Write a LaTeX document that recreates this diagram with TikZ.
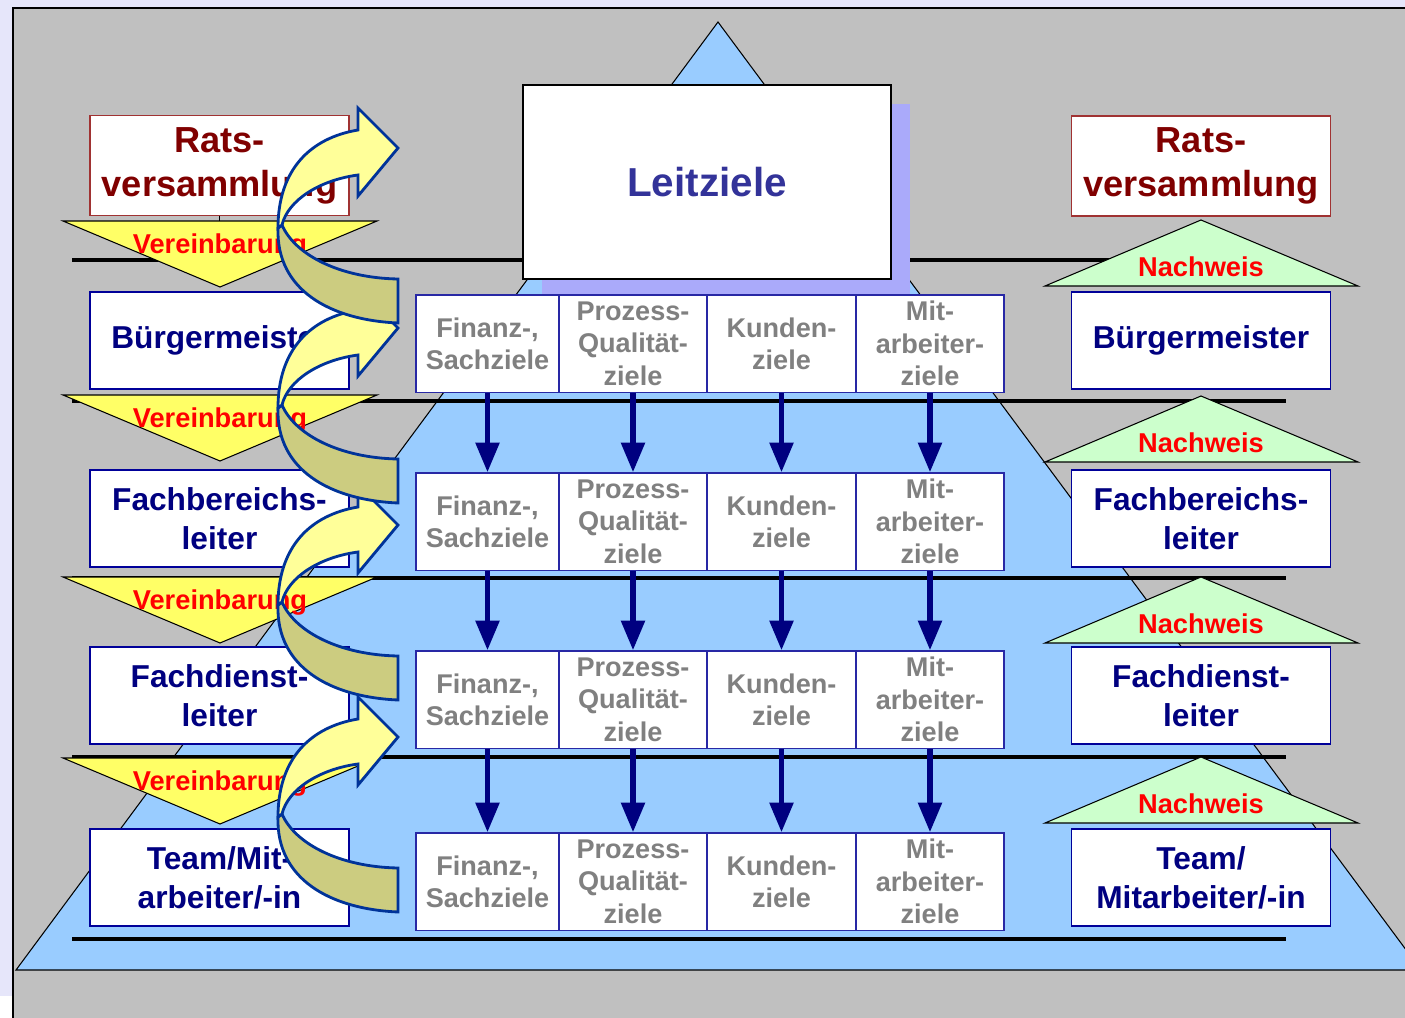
\documentclass[tikz,border=0pt]{standalone}
\usepackage{fontspec}
\setmainfont{Liberation Sans}
\usetikzlibrary{arrows.meta,shadows}

\definecolor{lavbg}{RGB}{230,230,250}
\definecolor{panel}{RGB}{192,192,192}
\definecolor{pyra}{RGB}{153,204,255}
\definecolor{leitshade}{RGB}{170,170,250}
\definecolor{leitblue}{RGB}{51,51,153}
\definecolor{navytext}{RGB}{0,0,128}
\definecolor{navyline}{RGB}{0,0,153}
\definecolor{cellline}{RGB}{40,40,165}
\definecolor{ratsred}{RGB}{128,0,0}
\definecolor{ratsline}{RGB}{160,50,50}
\definecolor{goalgray}{RGB}{128,128,128}
\definecolor{vyellow}{RGB}{255,255,102}
\definecolor{ngreen}{RGB}{204,255,204}
\definecolor{bentfrontc}{RGB}{255,255,153}
\definecolor{bentbackc}{RGB}{204,204,128}
\definecolor{bentline}{RGB}{0,51,153}

\tikzset{
  rolebox/.style={draw=navyline, line width=0.4pt, fill=white, text=navytext,
    minimum width=2.59cm, minimum height=0.97cm, align=center,
    font=\bfseries\fontsize{9}{11.1}\selectfont},
  ratsbox/.style={rolebox, draw=ratsline, text=ratsred,
    font=\bfseries\fontsize{10.3}{12.5}\selectfont},
  goalcell/.style={draw=cellline, line width=0.3pt, fill=white, text=goalgray,
    minimum height=0.97cm, inner sep=0pt, align=center,
    font=\bfseries\fontsize{7.7}{9.2}\selectfont},
  goalarrow/.style={draw=navytext, line width=1.7pt,
    -{Triangle[length=8.5pt,width=6.5pt]}},
  level/.style={line width=1.1pt},
  agreeshape/.style={draw=black, line width=0.3pt, fill=vyellow},
  proofshape/.style={draw=black, line width=0.3pt, fill=ngreen},
  flowlabel/.style={text=red, anchor=base, inner sep=0pt,
    font=\bfseries\fontsize{7.75}{9}\selectfont},
  bentfront/.style={draw=bentline, line width=0.8pt, fill=bentfrontc},
  bentback/.style={draw=bentline, line width=0.8pt, fill=bentbackc},
}

\def\bentarrow(#1)% Syntax: (vertical offset in px, from the top arrow)
  { \begin{scope}[shift={(0,#1)}]
      \filldraw[bentback] (278,228) .. controls (276,290) and (330,320) .. (398,323)
        -- (398,279) .. controls (340,278) and (295,255) .. (282,225) -- cycle;
      \filldraw[bentfront] (282,225) .. controls (288,200) and (320,180) .. (358,175)
        -- (358,196) -- (398,148) -- (358,108) -- (358,130)
        .. controls (310,138) and (278,170) .. (278,228) -- cycle;
    \end{scope} }

\begin{document}
\begin{tikzpicture}[x=0.01cm, y=-0.01cm]
  \useasboundingbox (0,0) rectangle (1405,1018);
  \clip (0,0) rectangle (1405,1018);
  \fill[lavbg] (0,0) rectangle (1405,996);
  \filldraw[fill=panel, draw=black, line width=0.6pt] (13,8) rectangle (1420,1030);

  % pyramid
  \filldraw[fill=pyra, draw=black, line width=0.3pt] (718,22) -- (1421,970) -- (16,970) -- cycle;

  \foreach \y in {260,401,578,757,939}
    \draw[level] (72,\y) -- (1286,\y);

  \node[draw=black, line width=0.4pt, fill=white, minimum width=3.68cm, minimum height=1.94cm,
        general shadow={fill=leitshade, shadow xshift=0.19cm, shadow yshift=-0.19cm},
        text=leitblue, font=\bfseries\fontsize{11.5}{13}\selectfont] (leit) at (707,182) {Leitziele};

  % goal rows
  \foreach \row/\ytop in {1/295,2/473,3/651,4/833}
    \foreach \col/\xl/\xr/\goal in {1/416/559/{Finanz-,\\Sachziele},
        2/559/707/{Prozess-\\Qualität-\\ziele},
        3/707/856/{Kunden-\\ziele},
        4/856/1004/{Mit-\\arbeiter-\\ziele}} {
      \pgfmathsetmacro\cellw{(\xr-\xl)*0.01}
      \node[goalcell, minimum width=\cellw cm] (cell-\row-\col) at ({(\xl+\xr)/2},\ytop+48.5) {\goal};
    }

  \foreach \row [evaluate=\row as \nxt using int(\row+1)] in {1,2,3}
    \foreach \col in {1,...,4}
      \draw[goalarrow] (cell-\row-\col) -- (cell-\nxt-\col);

  % left column
  \node[ratsbox] (l0) at (219.5,165.5) {Rats-\\versammlung};
  \node[rolebox] (l1) at (219.5,340.5) {Bürgermeister};
  \node[rolebox] (l2) at (219.5,518.5) {Fachbereichs-\\leiter};
  \node[rolebox] (l3) at (219.5,695.5) {Fachdienst-\\leiter};
  \node[rolebox] (l4) at (219.5,877.5) {Team/Mit-\\arbeiter/-in};

  % right column
  \node[ratsbox] (r0) at (1201,166) {Rats-\\versammlung};
  \node[rolebox] (r1) at (1201,340.5) {Bürgermeister};
  \node[rolebox] (r2) at (1201,518.5) {Fachbereichs-\\leiter};
  \node[rolebox] (r3) at (1201,695.5) {Fachdienst-\\leiter};
  \node[rolebox] (r4) at (1201,877.5) {Team/\\Mitarbeiter/-in};

  \coordinate (agreetop) at (219.5,233);
  \draw[line width=0.3pt] (l0) -- (agreetop);

  \foreach \t [count=\i] in {221,395,577,758} {
    \draw[agreeshape] (63,\t) -- (377,\t) -- (220,\t+66) -- cycle;
    \node[flowlabel] (agree\i) at (220,\t+32) {Vereinbarung};
  }
  \foreach \t [count=\i] in {220,396,577,757} {
    \draw[proofshape] (1201,\t) -- (1358,\t+66) -- (1045,\t+66) -- cycle;
    \node[flowlabel] (proof\i) at (1201,\t+56) {Nachweis};
  }

  % bent arrows, lowest first
  \bentarrow(589)
  \bentarrow(377)
  \bentarrow(180)
  \bentarrow(0)
\end{tikzpicture}
\end{document}
